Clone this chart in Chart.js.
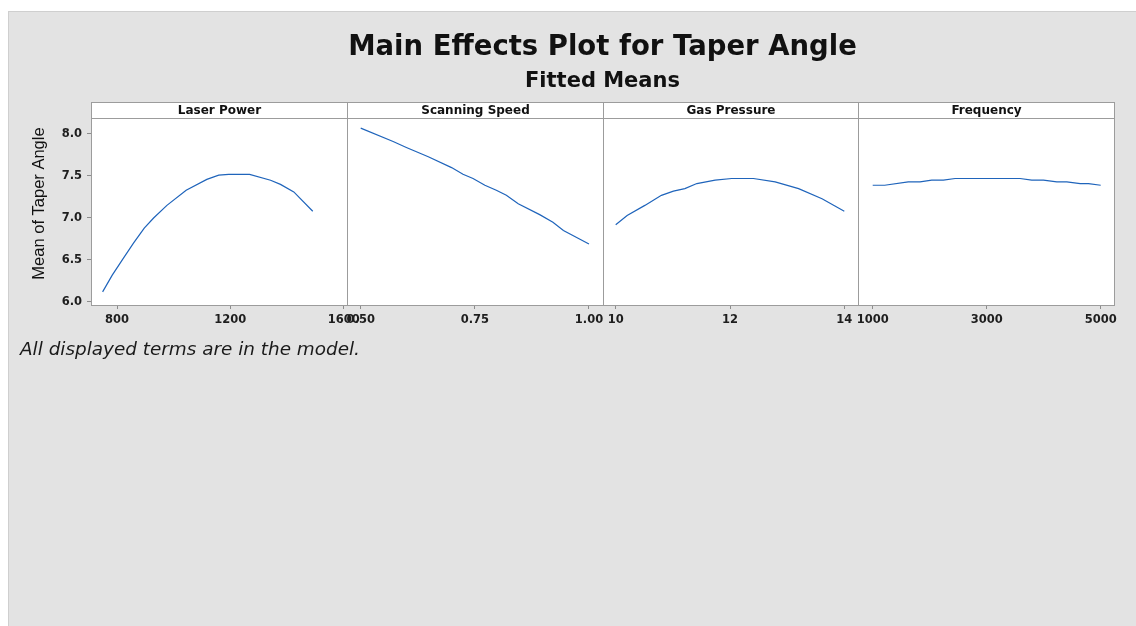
<!DOCTYPE html>
<html>
<head>
<meta charset="utf-8">
<title>Main Effects Plot for Taper Angle</title>
<script src="https://cdn.jsdelivr.net/npm/chart.js@4.4.0/dist/chart.umd.min.js"></script>
<style>
  body { margin:0; background:#fff; width:1136px; height:626px; overflow:hidden; position:relative; }
  #back { position:absolute; left:8px; top:11px; width:1128px; height:615px; background:#e3e3e3;
          box-shadow: inset 1px 1px 0 #cfcfcf; }
  #chart { position:absolute; left:8px; top:11px; }
  #note { position:absolute; left:20px; top:338px; font: italic 18.4px "DejaVu Sans"; color:#1a1a1a; }
</style>
</head>
<body>
<div id="back"></div>
<canvas id="chart" width="1128" height="340"></canvas>
<div id="note">All displayed terms are in the model.</div>
<script>
// factors (panel headers)
const factors = ['Laser Power', 'Scanning Speed', 'Gas Pressure', 'Frequency'];

// fitted means
const laserPower = [749, 783, 822, 858, 896, 929, 976, 1044, 1117, 1159, 1194, 1268, 1342, 1377, 1424, 1491];
const laserMean  = [6.12, 6.32, 6.52, 6.70, 6.88, 7.00, 7.15, 7.33, 7.46, 7.51, 7.52, 7.52, 7.45, 7.40, 7.31, 7.08];

const scanSpeed = [0.50, 0.571, 0.60, 0.648, 0.699, 0.724, 0.746, 0.772, 0.797, 0.819, 0.845, 0.892, 0.921, 0.944, 1.00];
const scanMean  = [8.07, 7.91, 7.84, 7.73, 7.60, 7.52, 7.47, 7.39, 7.33, 7.27, 7.17, 7.04, 6.95, 6.85, 6.69];

const gasPressure = [10, 10.2, 10.51, 10.8, 11.01, 11.21, 11.42, 11.74, 12.03, 12.41, 12.79, 13.2, 13.61, 14.0];
const gasMean     = [6.92, 7.03, 7.15, 7.27, 7.32, 7.35, 7.41, 7.45, 7.47, 7.47, 7.43, 7.35, 7.23, 7.08];

const frequency = [1000, 1210, 1624, 1830, 2035, 2240, 2445, 3585, 3790, 3995, 4230, 4405, 4640, 4785, 5000];
const freqMean  = [7.39, 7.39, 7.43, 7.43, 7.45, 7.45, 7.47, 7.47, 7.45, 7.45, 7.43, 7.43, 7.41, 7.41, 7.39];

// tick labels
const meanTicks  = [6.0, 6.5, 7.0, 7.5, 8.0];
const laserTicks = [800, 1200, 1600];
const speedTicks = [0.50, 0.75, 1.00];
const gasTicks   = [10, 12, 14];
const freqTicks  = [1000, 3000, 5000];

const lineColor = '#1f64bb';
const tickFont = {family:'DejaVu Sans', size:11.5, weight:'bold'};

function pts(xs, ys) {
  return xs.map((x, i) => ({x: x, y: ys[i]}));
}

function xScale(min, max, ticks, dec) {
  return {
    type: 'linear', position: 'bottom', stack: 'factors', stackWeight: 1,
    min: min, max: max,
    afterBuildTicks: s => { s.ticks = ticks.map(v => ({value: v})); },
    afterFit: s => { s.height = 30; },
    grid: {drawOnChartArea: false, drawTicks: true, tickLength: 4, color: '#8c8c8c'},
    border: {display: false},
    ticks: {autoSkip: false, maxRotation: 0, padding: 4, color: '#1e1e1e', font: tickFont,
            callback: v => Number(v).toFixed(dec)}
  };
}

// white panels, header strips and frames
const panels = {
  id: 'panels',
  beforeDraw(chart) {
    const {ctx, chartArea: a} = chart;
    ctx.save();
    ctx.fillStyle = '#fff';
    ctx.fillRect(a.left, a.top, a.width, a.height);
    ctx.restore();
  },
  afterDraw(chart) {
    const {ctx, chartArea: a} = chart;
    const top = Math.round(a.top) + 0.5;
    const bottom = Math.round(a.bottom) + 0.5;
    ctx.save();
    ctx.strokeStyle = '#9c9c9c';
    ctx.lineWidth = 1;
    factors.forEach((name, i) => {
      const s = chart.scales['x' + i];
      const l = Math.round(s.left) + 0.5, r = Math.round(s.right) + 0.5;
      ctx.strokeRect(l, top, r - l, bottom - top);
      ctx.beginPath();
      ctx.moveTo(l, top + 16); ctx.lineTo(r, top + 16);
      ctx.stroke();
      ctx.fillStyle = '#111';
      ctx.font = 'bold 12px "DejaVu Sans"';
      ctx.textAlign = 'center';
      ctx.textBaseline = 'middle';
      ctx.fillText(name, (l + r) / 2, top + 8.5);
    });
    ctx.restore();
  }
};

const ds = (data, axis) => ({
  data: data, xAxisID: axis, yAxisID: 'y',
  borderColor: lineColor, borderWidth: 1.2, pointRadius: 0, tension: 0, fill: false
});

new Chart(document.getElementById('chart'), {
  type: 'line',
  data: {
    datasets: [
      ds(pts(laserPower, laserMean), 'x0'),
      ds(pts(scanSpeed, scanMean), 'x1'),
      ds(pts(gasPressure, gasMean), 'x2'),
      ds(pts(frequency, freqMean), 'x3')
    ]
  },
  options: {
    responsive: false,
    animation: false,
    devicePixelRatio: 1,
    layout: {padding: {left: 0, right: 22, top: 0, bottom: 16}},
    scales: {
      x0: xScale(708, 1611, laserTicks, 0),
      x1: xScale(0.4694, 1.0296, speedTicks, 2),
      x2: xScale(9.769, 14.244, gasTicks, 0),
      x3: xScale(746.5, 5233, freqTicks, 0),
      y: {
        type: 'linear', position: 'left', min: 5.964, max: 8.381,
        afterBuildTicks: s => { s.ticks = meanTicks.map(v => ({value: v})); },
        afterFit: s => { s.width = 83; },
        grid: {drawOnChartArea: false, drawTicks: true, tickLength: 4, color: '#8c8c8c'},
        border: {display: false},
        ticks: {padding: 5, color: '#1e1e1e', font: tickFont, callback: v => Number(v).toFixed(1)},
        title: {display: true, text: 'Mean of Taper Angle', color: '#111',
                font: {family: 'Liberation Sans', size: 16.5}, padding: {top: 22, bottom: 0}}
      }
    },
    plugins: {
      legend: {display: false},
      tooltip: {enabled: false},
      title: {display: true, fullSize: false, text: 'Main Effects Plot for Taper Angle', color: '#111',
              font: {family: 'DejaVu Sans', size: 27.5, weight: 'bold'}, padding: {top: 20.5, bottom: 4}},
      subtitle: {display: true, fullSize: false, text: 'Fitted Means', color: '#111',
                 font: {family: 'DejaVu Sans', size: 21, weight: 'bold'}, padding: {top: 0, bottom: 8.3}}
    }
  },
  plugins: [panels]
});
</script>
</body>
</html>
